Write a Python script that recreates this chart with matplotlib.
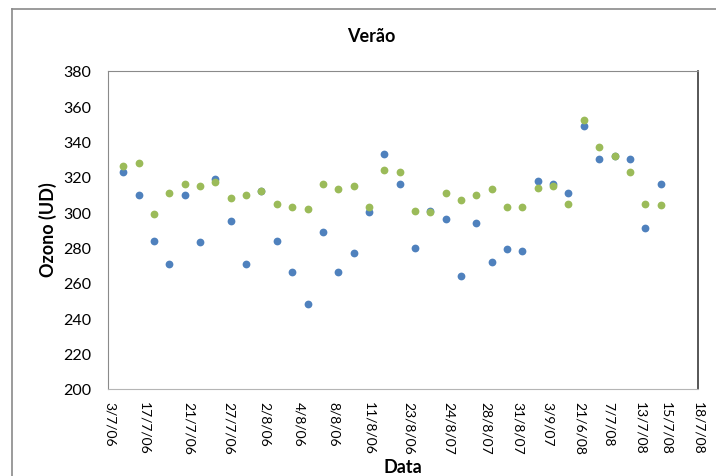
import numpy as np
import matplotlib
matplotlib.use("Agg")
import matplotlib.pyplot as plt
from matplotlib.lines import Line2D

plt.rcParams["font.family"] = ["Lato", "DejaVu Sans"]

# ozone readings (DU), one per observation, in order
serie_azul = [323, 310, 284, 271, 310, 283, 319, 295, 271, 312,
              284, 266, 248, 289, 266, 277, 300, 333, 316, 280,
              301, 296, 264, 294, 272, 279, 278, 318, 316, 311,
              349, 330, 332, 330, 291, 316]
serie_verde = [326, 328, 299, 311, 316, 315, 317, 308, 310, 312,
               305, 303, 302, 316, 313, 315, 303, 324, 323, 301,
               300, 311, 307, 310, 313, 303, 303, 314, 315, 305,
               352, 337, 332, 323, 305, 304]

datas = ["3/7/06", "17/7/06", "21/7/06", "27/7/06", "2/8/06", "4/8/06",
         "8/8/06", "11/8/06", "23/8/06", "24/8/07", "28/8/07", "31/8/07",
         "3/9/07", "21/6/08", "7/7/08", "13/7/08", "15/7/08", "18/7/08"]
# where the category labels sit on the axis
pos_datas = [0.13, 2.38, 5.28, 7.86, 10.24, 12.49, 14.74, 17.06, 19.58,
             22.21, 24.6, 26.72, 28.65, 30.71, 32.64, 34.71, 36.38, 38.44]

azul = "#4F81BD"
verde = "#9BBB59"

fig = plt.figure(figsize=(7.16, 4.77), dpi=100)
ax = fig.add_axes([108 / 716, 1 - 390 / 477, 590 / 716, 318 / 477])

x = np.arange(1, len(serie_azul) + 1)
ax.plot(x, serie_azul, "o", color=azul, markersize=5.6, markeredgewidth=0)
ax.plot(x, serie_verde, "o", color=verde, markersize=5.6, markeredgewidth=0)

ax.set_xlim(0, 38)
ax.set_ylim(200, 380)
ax.set_yticks(np.arange(200, 381, 20))
ax.set_xticks(pos_datas)
ax.set_xticklabels(datas, rotation=270, ha="center", va="top")
ax.tick_params(axis="x", length=0, pad=9, labelsize=10)
ax.tick_params(axis="y", length=0, pad=12, labelsize=11.5)

ax.spines["top"].set_color("#8a8a8a")
ax.spines["left"].set_color("#8a8a8a")
ax.spines["bottom"].set_color("#b5b5b5")
ax.spines["right"].set_color("#3a3a3a")
ax.spines["right"].set_linewidth(1.2)

fig.text(371 / 716, 1 - 37 / 477, "Verão", ha="center", va="center",
         fontsize=13, fontweight="bold")
fig.text(47.5 / 716, 1 - 230 / 477, "Ozono (UD)", ha="center", va="center",
         rotation=90, fontsize=13, fontweight="bold")
fig.text(403 / 716, 1 - 468 / 477, "Data", ha="center", va="center",
         fontsize=13, fontweight="bold")

# outer chart border (runs off the right and bottom edges)
fig.add_artist(Line2D([12 / 716, 12 / 716], [1 - 10 / 477, 0], color="#8a8a8a", lw=1.2))
fig.add_artist(Line2D([12 / 716, 1], [1 - 10 / 477, 1 - 10 / 477], color="#8a8a8a", lw=1.2))

fig.savefig("out.png", dpi=100)
